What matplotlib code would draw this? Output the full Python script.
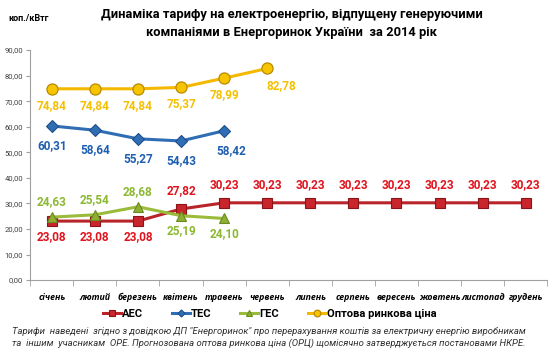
import numpy as np
import matplotlib
matplotlib.use("Agg")
import matplotlib.pyplot as plt

plt.rcParams['font.family'] = ['Roboto', 'DejaVu Sans']

months = ['січень', 'лютий', 'березень', 'квітень', 'травень', 'червень',
          'липень', 'серпень', 'вересень', 'жовтень', 'листопад', 'грудень']

aes = [23.08, 23.08, 23.08, 27.82, 30.23, 30.23, 30.23, 30.23, 30.23, 30.23, 30.23, 30.23]
tes = [60.31, 58.64, 55.27, 54.43, 58.42]
ges = [24.63, 25.54, 28.68, 25.19, 24.10]
orc = [74.84, 74.84, 74.84, 75.37, 78.99, 82.78]

# label placement: 1 = above, -1 = below
aes_pos = [-1, -1, -1, 1, 1, 1, 1, 1, 1, 1, 1, 1]
ges_pos = [1, 1, 1, -1, -1]

fig = plt.figure(figsize=(5.5, 3.6), dpi=100)
ax = fig.add_axes([0.055, 0.222, 0.94, 0.639])

x = np.arange(len(months))

ax.plot(x[:len(aes)], aes, '-s', color='#B8242A', lw=2.2, ms=7,
        mfc='#C8262C', mec='#8A1418', mew=0.8, label='АЕС', zorder=3)
ax.plot(x[:len(tes)], tes, '-D', color='#2F6DB5', lw=2.2, ms=6,
        mfc='#2F6DB5', mec='#1F4F8A', mew=0.8, label='ТЕС', zorder=3)
ax.plot(x[:len(ges)], ges, '-^', color='#9BBB3A', lw=2.2, ms=7,
        mfc='#8DB033', mec='#6A8A20', mew=0.8, label='ГЕС', zorder=3)
ax.plot(x[:len(orc)], orc, '-o', color='#F5B800', lw=2.2, ms=8,
        mfc='#F7C500', mec='#B98A00', mew=0.9, label='Оптова ринкова ціна', zorder=3)

def fmt(v):
    return f"{v:.2f}".replace('.', ',')

lbl_kw = dict(ha='center', va='center', fontsize=8.5, fontweight='bold')

for i, v in enumerate(orc):
    dx = 10 if i == 5 else 0
    ax.annotate(fmt(v), (i, v), xytext=(dx, -12), textcoords='offset points',
                color='#F5C000', **lbl_kw)
for i, v in enumerate(tes):
    dx = 5 if i == 4 else 0
    ax.annotate(fmt(v), (i, v), xytext=(dx, -14), textcoords='offset points',
                color='#1F5FAF', **lbl_kw)
for i, v in enumerate(aes):
    dy = 13 if aes_pos[i] > 0 else -11
    ax.annotate(fmt(v), (i, v), xytext=(0, dy), textcoords='offset points',
                color='#E0141E', **lbl_kw)
for i, v in enumerate(ges):
    dy = 11 if ges_pos[i] > 0 else -11
    ax.annotate(fmt(v), (i, v), xytext=(0, dy), textcoords='offset points',
                color='#8DB832', **lbl_kw)

ax.set_xlim(-0.5, len(months) - 0.5)
ax.set_ylim(0, 90)
ax.set_yticks(np.arange(0, 91, 10))
ax.set_yticklabels([f"{t:.2f}".replace('.', ',') for t in np.arange(0, 91, 10)],
                   fontsize=5.5, color='#404040')
ax.set_xticks(x)
ax.set_xticklabels(months, fontsize=6.3, fontstyle='italic', fontweight='bold',
                   family=['Open Sans', 'DejaVu Sans'])
ax.set_xticks(np.arange(-0.5, len(months), 1), minor=True)
ax.tick_params(axis='x', which='major', length=0, pad=9)
ax.tick_params(axis='x', which='minor', length=4, color='#A0A0A0')
ax.tick_params(axis='y', length=3, color='#A0A0A0', pad=2)

for s in ['top', 'right']:
    ax.spines[s].set_visible(False)
for s in ['left', 'bottom']:
    ax.spines[s].set_color('#A0A0A0')

fig.text(0.53, 0.935, 'Динаміка тарифу на електроенергію, відпущену генеруючими\n'
         'компаніями в Енергоринок України  за 2014 рік',
         ha='center', va='center', fontsize=9.3, fontweight='bold', linespacing=1.55)
fig.text(0.015, 0.948, 'коп./кВтг', fontsize=6.5, fontweight='bold', va='center')

fig.legend(loc='center', bbox_to_anchor=(0.49, 0.128), ncol=4, frameon=False,
           prop={'weight': 'bold', 'size': 8}, markerscale=0.6,
           handlelength=1.6, columnspacing=2.6, handletextpad=0.1)

fig.text(0.022, 0.062, 'Тарифи  наведені  згідно з довідкою ДП "Енергоринок" про перерахування коштів за електричну енергію виробникам\n'
         'та  іншим  учасникам  ОРЕ. Прогнозована оптова ринкова ціна (ОРЦ) щомісячно затверджується постановами НКРЕ.',
         fontsize=6.8, fontstyle='italic', color='#303030', va='center', linespacing=1.4)

fig.savefig('out.png', dpi=100)
